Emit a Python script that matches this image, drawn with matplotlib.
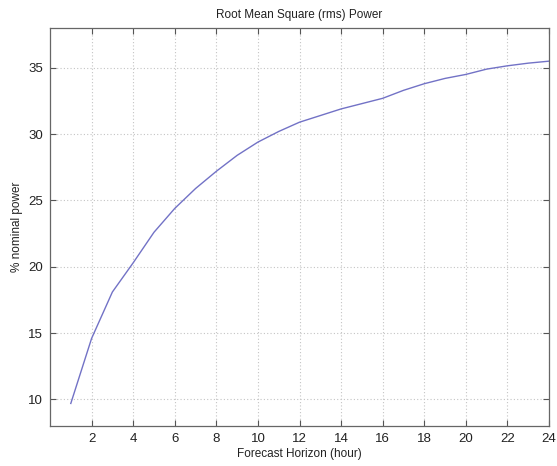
import matplotlib
matplotlib.use("Agg")
import matplotlib.pyplot as plt

plt.rcParams['font.family'] = ['Liberation Sans', 'DejaVu Sans']

# forecast horizon (hours) and rms error in % of nominal power
hours = list(range(1, 25))
rms_power = [9.7, 14.6, 18.1, 20.3, 22.6, 24.4, 25.9, 27.2, 28.4, 29.4,
             30.2, 30.9, 31.4, 31.9, 32.3, 32.7, 33.3, 33.8, 34.2, 34.5,
             34.9, 35.15, 35.35, 35.5]
x_ticks = [2, 4, 6, 8, 10, 12, 14, 16, 18, 20, 22, 24]
y_ticks = [10, 15, 20, 25, 30, 35]

fig = plt.figure(figsize=(5.57, 4.66), dpi=100)
ax = fig.add_axes([50 / 557, 40 / 466, 499 / 557, 398 / 466])

ax.plot(hours, rms_power, color='#7272c6', linewidth=1.0)

ax.set_xlim(0, 24)
ax.set_ylim(8, 38)
ax.set_xticks(x_ticks)
ax.set_yticks(y_ticks)
ax.grid(True, linestyle=(0, (1, 2)), color='#c4c4c4', linewidth=0.8)
ax.tick_params(direction='in', top=True, right=True, length=4, pad=5,
               labelsize=9.5, color='#555555', labelcolor='#222222')
for s in ax.spines.values():
    s.set_color('#666666')
    s.set_linewidth(0.9)

ax.set_title('Root Mean Square (rms) Power', fontsize=8.5, color='#222222', pad=7)
ax.set_xlabel('Forecast Horizon (hour)', fontsize=8.5, color='#222222', labelpad=2)
ax.set_ylabel('% nominal power', fontsize=8.5, color='#222222', labelpad=4)

fig.savefig('out.png', dpi=100)
